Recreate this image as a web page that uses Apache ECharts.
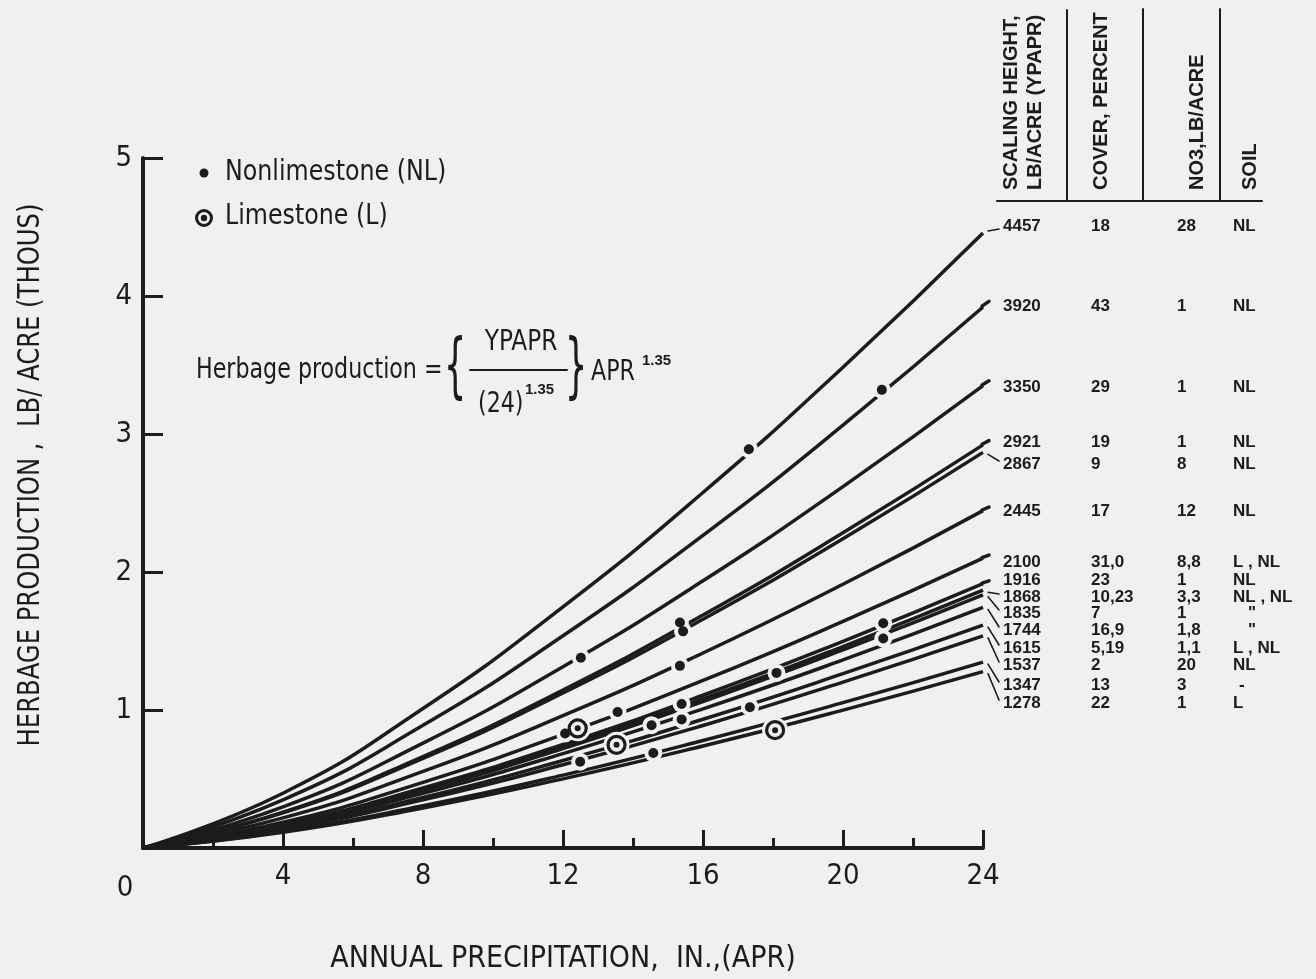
<!DOCTYPE html>
<html>
<head>
<meta charset="utf-8">
<script src="https://cdn.jsdelivr.net/npm/echarts@6/dist/echarts.min.js"></script>
<style>
html,body{margin:0;padding:0;background:#f0f0ef;}
#main{width:1316px;height:979px;}
</style>
</head>
<body>
<div id="main"></div>
<script>
// ---------- DATA ----------
const precipX = [0, 4, 8, 12, 16, 20, 24];
// herbage production (thousand lb/acre)
const h4457 = [0, 0.397, 1.011, 1.748, 2.576, 3.484, 4.457];
const h3920 = [0, 0.349, 0.889, 1.538, 2.266, 3.064, 3.920];
const h3350 = [0, 0.298, 0.760, 1.314, 1.936, 2.619, 3.350];
const h2921 = [0, 0.260, 0.663, 1.145, 1.688, 2.284, 2.921];
const h2867 = [0, 0.255, 0.650, 1.124, 1.657, 2.241, 2.867];
const h2445 = [0, 0.218, 0.555, 0.959, 1.413, 1.911, 2.445];
const h2100 = [0, 0.187, 0.476, 0.824, 1.214, 1.642, 2.100];
const h1916 = [0, 0.171, 0.435, 0.751, 1.107, 1.498, 1.916];
const h1868 = [0, 0.166, 0.424, 0.733, 1.080, 1.460, 1.868];
const h1835 = [0, 0.163, 0.416, 0.720, 1.061, 1.435, 1.835];
const h1744 = [0, 0.155, 0.396, 0.684, 1.008, 1.363, 1.744];
const h1615 = [0, 0.144, 0.366, 0.634, 0.933, 1.263, 1.615];
const h1537 = [0, 0.137, 0.349, 0.603, 0.888, 1.202, 1.537];
const h1347 = [0, 0.120, 0.306, 0.528, 0.779, 1.053, 1.347];
const h1278 = [0, 0.114, 0.290, 0.501, 0.739, 0.999, 1.278];

const scalingHeights = ['4457','3920','3350','2921','2867','2445','2100','1916','1868','1835','1744','1615','1537','1347','1278'];
const coverPercent  = ['18','43','29','19','9','17','31,0','23','10,23','7','16,9','5,19','2','13','22'];
const no3LbAcre     = ['28','1','1','1','8','12','8,8','1','3,3','1','1,8','1,1','20','3','1'];
const soilType      = ['NL','NL','NL','NL','NL','NL','L , NL','NL','NL , NL','"','"','L , NL','NL','-','L'];

const nonlimestonePts = [[17.31,2.89],[21.11,3.32],[12.51,1.378],[15.34,1.634],[15.43,1.57],[15.34,1.32],
  [18.10,1.269],[13.56,0.985],[15.39,1.044],[17.34,1.02],[12.06,0.83],[14.53,0.89],[15.39,0.932],
  [12.49,0.625],[14.58,0.688],[21.15,1.628],[21.15,1.518]];
const limestonePts = [[12.42,0.867],[13.53,0.748],[18.06,0.854]];

const xTicks = [0, 4, 8, 12, 16, 20, 24];
const yTicks = [0, 1, 2, 3, 4, 5];

// ---------- LAYOUT / STYLE ----------
const BG = '#f0f0ef';
const INK = '#1e1b1b';
const SANS = "'Liberation Sans Narrow','DejaVu Sans Condensed','Liberation Sans',Arial,sans-serif";
const BOLD = "'Liberation Sans',Arial,sans-serif";
const rowY = [226, 306, 387, 442, 464, 511, 562, 580, 597, 613, 630, 648, 665, 685, 703];
const colX = {scale: 1003, cover: 1091, no3: 1177, soil: 1233};

const curves = [h4457,h3920,h3350,h2921,h2867,h2445,h2100,h1916,h1868,h1835,h1744,h1615,h1537,h1347,h1278];

const chart = echarts.init(document.getElementById('main'));

const series = curves.map((arr, k) => ({
  type: 'line',
  name: scalingHeights[k],
  data: precipX.map((x, i) => [x, arr[i]]),
  smooth: true,
  showSymbol: false,
  lineStyle: {color: INK, width: 3.5, opacity: 1},
  z: 2,
  silent: true
}));
series.push({type:'scatter', data: nonlimestonePts, symbolSize: 18, itemStyle:{color: BG, opacity: 1}, z: 3, silent:true});
series.push({type:'scatter', data: limestonePts, symbolSize: 26, itemStyle:{color: BG, opacity: 1}, z: 3, silent:true});
series.push({type:'scatter', name:'Nonlimestone (NL)', data: nonlimestonePts, symbolSize: 10, itemStyle:{color: INK, opacity: 1}, z: 4, silent:true});
series.push({type:'scatter', name:'Limestone (L)', data: limestonePts, symbolSize: 17,
  itemStyle:{color: BG, borderColor: INK, borderWidth: 3.2, opacity: 1}, z: 4, silent:true});
series.push({type:'scatter', data: limestonePts, symbolSize: 6, itemStyle:{color: INK, opacity: 1}, z: 5, silent:true});

const option = {
  backgroundColor: BG,
  animation: false,
  grid: {left: 143, right: 333, top: 158, bottom: 117},
  xAxis: {
    type: 'value', min: xTicks[0], max: xTicks[xTicks.length-1], interval: 4,
    axisLine: {show: true, lineStyle: {color: INK, width: 4}},
    axisTick: {show: true, inside: true, length: 18, lineStyle: {color: INK, width: 3}},
    minorTick: {show: true, splitNumber: 2, length: 10, lineStyle: {color: INK, width: 3}},
    splitLine: {show: false},
    axisLabel: {margin: 14, color: INK, fontFamily: SANS, fontSize: 29, showMinLabel: false},
    name: 'ANNUAL PRECIPITATION,  IN.,(APR)',
    nameLocation: 'middle', nameGap: 96,
    nameTextStyle: {color: INK, fontFamily: SANS, fontSize: 30}
  },
  yAxis: {
    type: 'value', min: yTicks[0], max: yTicks[yTicks.length-1], interval: 1,
    axisLine: {show: true, lineStyle: {color: INK, width: 4}},
    axisTick: {show: true, inside: true, length: 20, lineStyle: {color: INK, width: 3}},
    splitLine: {show: false},
    axisLabel: {margin: 11, color: INK, fontFamily: SANS, fontSize: 29, showMinLabel: false}
  },
  series: series
};
chart.setOption(option);

// ---------- ANNOTATIONS ----------
const g = [];
function txt(x, y, s, opt) {
  g.push(Object.assign({type:'text', x: x, y: y, silent: true,
    style: Object.assign({text: s, fill: INK, font: '29px ' + SANS, textAlign: 'left', textVerticalAlign: 'middle'}, opt && opt.style)},
    opt && opt.el));
}
function line(x1, y1, x2, y2, w) {
  g.push({type:'line', silent:true, shape:{x1:x1,y1:y1,x2:x2,y2:y2}, style:{stroke: INK, lineWidth: w || 2, lineCap: 'round'}});
}

// origin label
txt(125, 888, String(xTicks[0]), {style:{textAlign:'center'}});
// y axis title
txt(31, 475, 'HERBAGE PRODUCTION ,  LB/ ACRE (THOUS)', {style:{textAlign:'center', font: '30px ' + SANS}, el:{rotation: Math.PI/2, scaleX: 0.9}});

// legend
g.push({type:'circle', silent:true, shape:{cx:204, cy:173, r:4.5}, style:{fill: INK}});
g.push({type:'circle', silent:true, shape:{cx:204, cy:218, r:7.5}, style:{fill: BG, stroke: INK, lineWidth: 3}});
g.push({type:'circle', silent:true, shape:{cx:204, cy:218, r:3.2}, style:{fill: INK}});
txt(225, 172, 'Nonlimestone (NL)', {el:{scaleX: 0.91}});
txt(225, 216, 'Limestone (L)', {el:{scaleX: 0.91}});

// formula
const FS = 0.85;
txt(196, 370, 'Herbage production =', {el:{scaleX: FS}});
txt(455, 370, '{', {style:{textAlign:'center', font: '36px ' + SANS}, el:{scaleY: 2.0, scaleX: 1.1}});
txt(521, 342, 'YPAPR', {style:{textAlign:'center'}, el:{scaleX: 0.89}});
line(470, 370, 567, 370, 2);
txt(478, 404, '(24)', {el:{scaleX: FS}});
txt(525, 390, '1.35', {style:{font: 'bold 15px ' + BOLD}});
txt(576, 370, '}', {style:{textAlign:'center', font: '36px ' + SANS}, el:{scaleY: 2.0, scaleX: 1.1}});
txt(591, 372, 'APR', {el:{scaleX: FS}});
txt(642, 361, '1.35', {style:{font: 'bold 15px ' + BOLD}});

// table header
line(1067, 10, 1067, 201, 2);
line(1143, 9, 1143, 201, 2);
line(1220, 9, 1220, 201, 2);
line(997, 201, 1262, 201, 2);
const hdrFont = 'bold 20px ' + BOLD;
txt(1011, 190, 'SCALING HEIGHT,', {style:{font: hdrFont}, el:{rotation: Math.PI/2}});
txt(1035, 190, 'LB/ACRE (YPAPR)', {style:{font: hdrFont}, el:{rotation: Math.PI/2}});
txt(1101, 190, 'COVER, PERCENT', {style:{font: hdrFont}, el:{rotation: Math.PI/2}});
txt(1197, 190, 'NO3,LB/ACRE', {style:{font: hdrFont}, el:{rotation: Math.PI/2}});
txt(1250, 190, 'SOIL', {style:{font: hdrFont}, el:{rotation: Math.PI/2}});

// table rows + leaders
const rowFont = 'bold 17px ' + BOLD;
const n = precipX.length;
scalingHeights.forEach((s, i) => {
  const y = rowY[i];
  txt(colX.scale, y, s, {style:{font: rowFont}});
  txt(colX.cover, y, coverPercent[i], {style:{font: rowFont}});
  txt(colX.no3, y, no3LbAcre[i], {style:{font: rowFont}});
  const soil = soilType[i];
  const sx = soil === '"' ? colX.soil + 15 : (soil === '-' ? colX.soil + 6 : colX.soil);
  txt(sx, y, soil, {style:{font: rowFont}});
  const end = chart.convertToPixel({gridIndex: 0}, [precipX[n-1], curves[i][n-1]]);
  const prev = chart.convertToPixel({gridIndex: 0}, [precipX[n-2], curves[i][n-2]]);
  const slope = (end[1] - prev[1]) / (end[0] - prev[0]) * 1.12;
  if (Math.abs(end[1] - y) > 6) {
    line(end[0] + 5, end[1] + (y > end[1] ? 2 : -2), 999, y + (y > end[1] ? -3 : 3), 1.6);
  } else {
    line(end[0] - 1, end[1] - slope * -1, end[0] + 6, end[1] + slope * 6, 3.5);
  }
});

chart.setOption({graphic: {elements: g}});
</script>
</body>
</html>
